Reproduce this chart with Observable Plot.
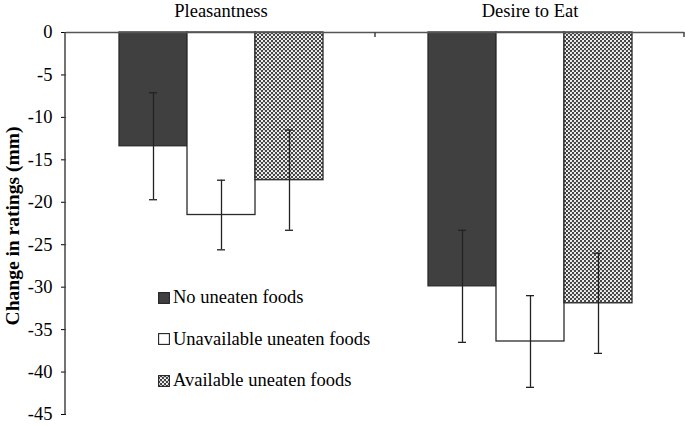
<!DOCTYPE html>
<html><head><meta charset="utf-8">
<script src="https://cdn.jsdelivr.net/npm/d3@7"></script>
<script src="https://cdn.jsdelivr.net/npm/@observablehq/plot@0.6"></script>
<style>
html,body{margin:0;padding:0;background:#fff;}
#wrap{position:relative;width:685px;height:428px;font-family:"Liberation Serif","Times New Roman",serif;color:#000;}
#legend{position:absolute;left:158px;top:277px;font-size:18.5px;}
#legend .row{display:flex;align-items:center;height:41.5px;}
#legend svg{margin-right:3px;}
</style></head><body>
<svg width="0" height="0" style="position:absolute">
  <defs>
    <pattern id="confetti" width="4" height="4" patternUnits="userSpaceOnUse">
      <rect width="4" height="4" fill="#444444"></rect>
      <circle cx="1" cy="1" r="1.1" fill="#ffffff"></circle>
      <circle cx="3" cy="3" r="1.1" fill="#ffffff"></circle>
    </pattern>
  </defs>
</svg>
<div id="wrap">
  <div id="legend"></div>
</div>
<script>
// ---- data ----
const categories = ["Pleasantness", "Desire to Eat"];
const series = ["No uneaten foods", "Unavailable uneaten foods", "Available uneaten foods"];
const pleasantness = [-13.4, -21.5, -17.4];
const pleasantnessErr = [6.3, 4.1, 5.9];
const desireToEat = [-29.9, -36.4, -31.9];
const desireToEatErr = [6.6, 5.4, 5.9];
const yTicks = [0, -5, -10, -15, -20, -25, -30, -35, -40, -45];
const yLabel = "Change in ratings (mm)";
const seriesFills = ["#404040", "#ffffff", "url(#confetti)"];

// ---- table ----
const valuesByCat = [pleasantness, desireToEat];
const errByCat = [pleasantnessErr, desireToEatErr];
const rows = [];
categories.forEach((c, i) => series.forEach((s, j) => rows.push({
  category: c, series: s, value: valuesByCat[i][j], err: errByCat[i][j]
})));

const plot = Plot.plot({
  width: 685, height: 428,
  marginLeft: 65, marginRight: 1, marginTop: 32, marginBottom: 14,
  style: {fontFamily: "Liberation Serif, Times New Roman, serif", fontSize: "18.5px", color: "#000", background: "transparent", overflow: "visible"},
  fx: {domain: categories, padding: 0, axis: "top", label: null, tickSize: 0, tickPadding: 16},
  x: {domain: series, paddingInner: 0, paddingOuter: 0.74, axis: null},
  y: {domain: [-45, 0], ticks: yTicks, tickFormat: d => `${d}`, tickSize: 5, tickPadding: 9, label: null},
  color: {type: "ordinal", domain: series, range: seriesFills},
  marks: [
    Plot.barY(rows, {fx: "category", x: "series", y: "value", fill: "series", stroke: "#2a2a2a", strokeWidth: 1.3}),
    Plot.ruleY([0], {stroke: "#555", strokeWidth: 1.5}),
    Plot.ruleX(rows, {fx: "category", x: "series", y1: d => d.value - d.err, y2: d => d.value + d.err, stroke: "#222", strokeWidth: 1.3}),
    Plot.tickY(rows, {fx: "category", x: "series", y: d => d.value - d.err, insetLeft: 30, insetRight: 30, stroke: "#222", strokeWidth: 1.3}),
    Plot.tickY(rows, {fx: "category", x: "series", y: d => d.value + d.err, insetLeft: 30, insetRight: 30, stroke: "#222", strokeWidth: 1.3})
  ]
});
plot.style.position = "absolute";
plot.style.left = "0px";
plot.style.top = "0px";
document.getElementById("wrap").prepend(plot);

// axis line, category separator ticks and y label, placed from the plot's own scales
const fx = plot.scale("fx"), y = plot.scale("y");
const ns = "http://www.w3.org/2000/svg";
const y0 = y.apply(0), yMin = y.apply(-45);
function line(x1, y1, x2, y2) {
  const l = document.createElementNS(ns, "line");
  l.setAttribute("x1", x1); l.setAttribute("y1", y1);
  l.setAttribute("x2", x2); l.setAttribute("y2", y2);
  l.setAttribute("stroke", "#444"); l.setAttribute("stroke-width", "1.5");
  plot.appendChild(l);
}
const xLeft = Math.min(...fx.range);
line(xLeft, y0, xLeft, yMin + 0.5);
categories.forEach(c => {
  const xr = fx.apply(c) + fx.bandwidth;
  line(xr, y0, xr, y0 + 5);
});
const t = document.createElementNS(ns, "text");
t.setAttribute("transform", `translate(19,${(y0 + yMin) / 2 + 3}) rotate(-90)`);
t.setAttribute("text-anchor", "middle");
t.setAttribute("font-weight", "bold");
t.setAttribute("font-size", "19.5");
t.setAttribute("fill", "#000");
t.textContent = yLabel;
plot.appendChild(t);

// legend
const legend = document.getElementById("legend");
series.forEach((s, j) => {
  const row = document.createElement("div");
  row.className = "row";
  row.innerHTML = `<svg width="12" height="12"><rect x="0.6" y="0.6" width="10.8" height="10.8" fill="${seriesFills[j]}" stroke="#222" stroke-width="1.1"></rect></svg><span>${s}</span>`;
  legend.appendChild(row);
});
</script>
</body></html>
